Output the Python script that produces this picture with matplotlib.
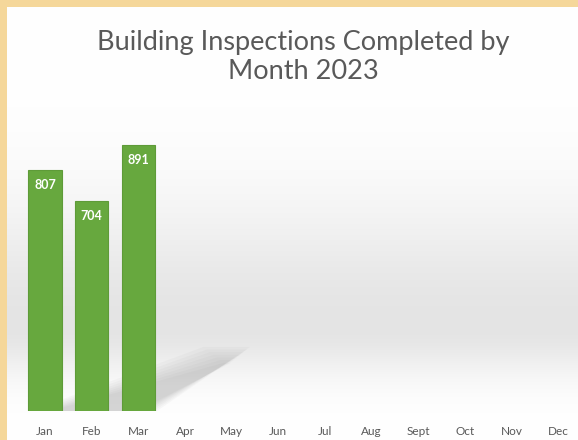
import numpy as np
import matplotlib.pyplot as plt
from matplotlib.patches import Polygon

months = ['Jan', 'Feb', 'Mar', 'Apr', 'May', 'Jun', 'Jul', 'Aug', 'Sept', 'Oct', 'Nov', 'Dec']
inspections = [807, 704, 891]

plt.rcParams['font.family'] = ['Lato', 'DejaVu Sans']

fig = plt.figure(figsize=(5.78, 4.40), dpi=100)
fig.patch.set_facecolor('#F5D79A')

# panel with a soft white -> gray -> white gradient (row 0 = top)
bg = fig.add_axes([7 / 578, 0, 1 - 7 / 578, 1 - 7 / 440], zorder=0)
t = np.linspace(0, 1, 433)
shade = np.where(t < 0.74,
                 1.0 - 0.105 * np.exp(-((t - 0.74) / 0.28) ** 2),
                 1.0 - 0.105 * np.exp(-((t - 0.74) / 0.11) ** 2))
img = np.repeat(shade[:, None, None], 3, axis=2).repeat(2, axis=1)
bg.imshow(img, aspect='auto', extent=[0, 1, 0, 1], origin='upper')
bg.set_xlim(0, 1)
bg.set_ylim(0, 1)
bg.axis('off')

ax = fig.add_axes([21.6 / 578, 29 / 440, 556.4 / 578, 298.6 / 440], zorder=1)
ax.patch.set_alpha(0)
x = np.arange(len(months))

# soft shadow cast behind the bars
for k in range(7):
    s = 0.07 * k
    poly = Polygon([(-0.3 + s, 0), (2.4 - s, 0), (4.4 - s, 215 - 9 * k), (3.4 + s, 215 - 9 * k)],
                   closed=True, facecolor='#6e6e6e', edgecolor='none', alpha=0.045, zorder=1)
    ax.add_patch(poly)

bars = ax.bar(x[:len(inspections)], inspections, width=0.71, color='#67A83E',
              edgecolor='#5E9B38', linewidth=0.8, zorder=2)
for b, v in zip(bars, inspections):
    ax.text(b.get_x() + b.get_width() / 2, v - 30, str(v), ha='center', va='top',
            color='white', fontsize=9, fontweight='bold', zorder=3)

ax.set_xlim(-0.5, 11.42)
ax.set_ylim(0, 1000)
ax.set_xticks(x)
ax.set_xticklabels(months, fontsize=8.5, color='#595959')
ax.tick_params(axis='x', length=0, pad=11)
ax.set_yticks([])
for sp in ax.spines.values():
    sp.set_visible(False)

fig.text(303 / 578, 1 - 57 / 440, 'Building Inspections Completed by\nMonth 2023',
         ha='center', va='center', fontsize=19.5, color='#595959', linespacing=1.2)

fig.savefig('out.png', dpi=100, facecolor=fig.get_facecolor())
